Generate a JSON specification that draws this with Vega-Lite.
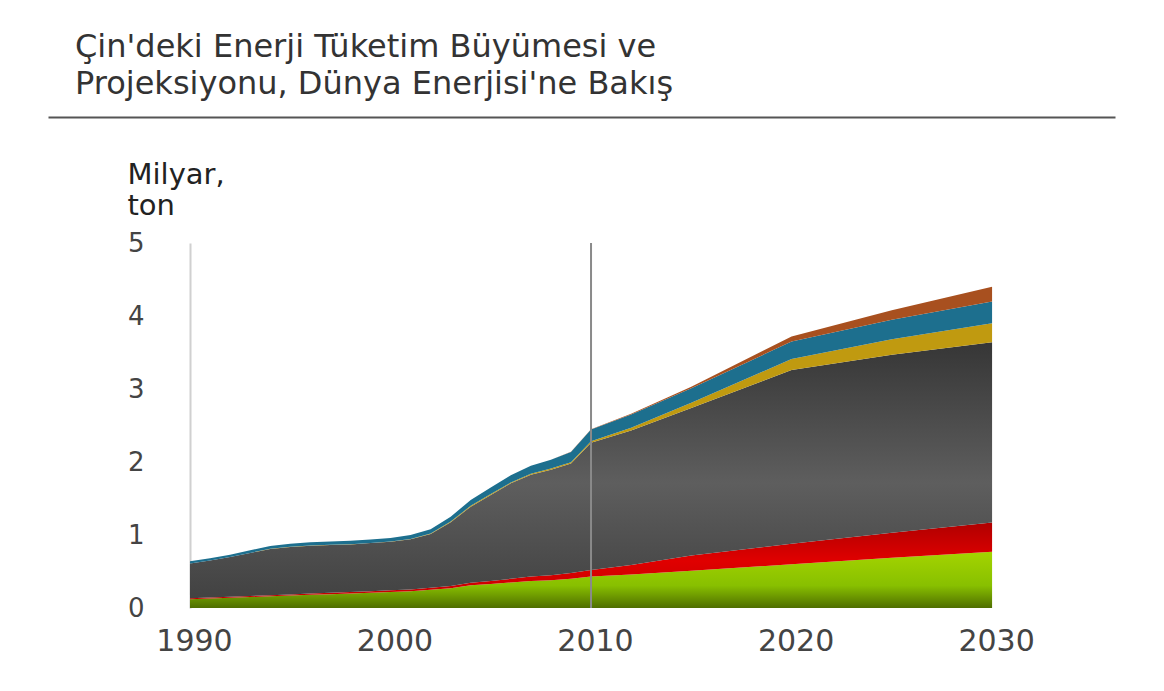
{
  "$schema": "https://vega.github.io/schema/vega-lite/v6.json",
  "autosize": "none",
  "width": 1067,
  "height": 365,
  "padding": {"left": 48, "top": 243, "right": 49, "bottom": 83},
  "background": "white",
  "config": {"view": {"stroke": null}},
  "title": {
    "text": ["Çin'deki Enerji Tüketim Büyümesi ve", "Projeksiyonu, Dünya Enerjisi'ne Bakış"],
    "anchor": "start",
    "frame": "group",
    "dx": 27,
    "offset": 16,
    "font": "DejaVu Sans",
    "fontSize": 32,
    "fontWeight": "normal",
    "color": "#333333",
    "lineHeight": 37
  },
  "datasets": {
    "energy": [
      {"year": 1990, "petrol": 0.12, "gaz": 0.013, "komur": 0.477, "nukleer": 0, "hidro": 0.03, "yenilenebilir": 0},
      {"year": 1991, "petrol": 0.13, "gaz": 0.013, "komur": 0.507, "nukleer": 0, "hidro": 0.03, "yenilenebilir": 0},
      {"year": 1992, "petrol": 0.14, "gaz": 0.013, "komur": 0.547, "nukleer": 0, "hidro": 0.03, "yenilenebilir": 0},
      {"year": 1993, "petrol": 0.15, "gaz": 0.014, "komur": 0.591, "nukleer": 0, "hidro": 0.035, "yenilenebilir": 0},
      {"year": 1994, "petrol": 0.16, "gaz": 0.015, "komur": 0.632, "nukleer": 0.003, "hidro": 0.04, "yenilenebilir": 0},
      {"year": 1995, "petrol": 0.17, "gaz": 0.016, "komur": 0.649, "nukleer": 0.003, "hidro": 0.042, "yenilenebilir": 0},
      {"year": 1996, "petrol": 0.18, "gaz": 0.017, "komur": 0.657, "nukleer": 0.003, "hidro": 0.043, "yenilenebilir": 0},
      {"year": 1997, "petrol": 0.19, "gaz": 0.018, "komur": 0.655, "nukleer": 0.003, "hidro": 0.044, "yenilenebilir": 0},
      {"year": 1998, "petrol": 0.2, "gaz": 0.018, "komur": 0.652, "nukleer": 0.003, "hidro": 0.047, "yenilenebilir": 0},
      {"year": 1999, "petrol": 0.21, "gaz": 0.019, "komur": 0.66, "nukleer": 0.003, "hidro": 0.048, "yenilenebilir": 0},
      {"year": 2000, "petrol": 0.22, "gaz": 0.022, "komur": 0.664, "nukleer": 0.004, "hidro": 0.05, "yenilenebilir": 0},
      {"year": 2001, "petrol": 0.23, "gaz": 0.024, "komur": 0.687, "nukleer": 0.004, "hidro": 0.055, "yenilenebilir": 0},
      {"year": 2002, "petrol": 0.25, "gaz": 0.026, "komur": 0.738, "nukleer": 0.006, "hidro": 0.06, "yenilenebilir": 0},
      {"year": 2003, "petrol": 0.27, "gaz": 0.03, "komur": 0.875, "nukleer": 0.01, "hidro": 0.065, "yenilenebilir": 0},
      {"year": 2004, "petrol": 0.31, "gaz": 0.035, "komur": 1.043, "nukleer": 0.012, "hidro": 0.08, "yenilenebilir": 0},
      {"year": 2005, "petrol": 0.33, "gaz": 0.04, "komur": 1.178, "nukleer": 0.012, "hidro": 0.09, "yenilenebilir": 0},
      {"year": 2006, "petrol": 0.35, "gaz": 0.05, "komur": 1.308, "nukleer": 0.012, "hidro": 0.1, "yenilenebilir": 0},
      {"year": 2007, "petrol": 0.37, "gaz": 0.06, "komur": 1.396, "nukleer": 0.014, "hidro": 0.11, "yenilenebilir": 0},
      {"year": 2008, "petrol": 0.38, "gaz": 0.07, "komur": 1.445, "nukleer": 0.015, "hidro": 0.12, "yenilenebilir": 0},
      {"year": 2009, "petrol": 0.4, "gaz": 0.08, "komur": 1.501, "nukleer": 0.016, "hidro": 0.14, "yenilenebilir": 0.003},
      {"year": 2010, "petrol": 0.43, "gaz": 0.09, "komur": 1.745, "nukleer": 0.02, "hidro": 0.16, "yenilenebilir": 0.005},
      {"year": 2012, "petrol": 0.46, "gaz": 0.13, "komur": 1.84, "nukleer": 0.04, "hidro": 0.18, "yenilenebilir": 0.01},
      {"year": 2015, "petrol": 0.51, "gaz": 0.21, "komur": 2.02, "nukleer": 0.07, "hidro": 0.2, "yenilenebilir": 0.02},
      {"year": 2020, "petrol": 0.6, "gaz": 0.28, "komur": 2.38, "nukleer": 0.15, "hidro": 0.24, "yenilenebilir": 0.07},
      {"year": 2025, "petrol": 0.69, "gaz": 0.34, "komur": 2.44, "nukleer": 0.21, "hidro": 0.27, "yenilenebilir": 0.13},
      {"year": 2030, "petrol": 0.77, "gaz": 0.4, "komur": 2.47, "nukleer": 0.26, "hidro": 0.3, "yenilenebilir": 0.2}
    ],
    "fuels": [
      {"fuel": "petrol", "order": 1},
      {"fuel": "gaz", "order": 2},
      {"fuel": "komur", "order": 3},
      {"fuel": "nukleer", "order": 4},
      {"fuel": "hidro", "order": 5},
      {"fuel": "yenilenebilir", "order": 6}
    ],
    "divider": [{"year": 2010}]
  },
  "resolve": {"axis": {"x": "independent"}},
  "layer": [
    {
      "data": {"name": "energy"},
      "transform": [
        {"fold": ["petrol", "gaz", "komur", "nukleer", "hidro", "yenilenebilir"], "as": ["fuel", "value"]},
        {"lookup": "fuel", "from": {"data": {"name": "fuels"}, "key": "fuel", "fields": ["order"]}},
        {"stack": "value", "groupby": ["year"], "sort": [{"field": "order", "order": "ascending"}], "as": ["y0", "y1"]}
      ],
      "encoding": {
        "x": {
          "field": "year", "type": "quantitative",
          "scale": {"domain": [1982.92, 2036.13], "nice": false, "zero": false},
          "axis": {
            "orient": "bottom",
            "values": [1990, 2000, 2010, 2020, 2030], "format": "d", "title": null,
            "domain": false, "ticks": false, "grid": false, "labelFlush": false,
            "labelFont": "DejaVu Sans", "labelFontSize": 30, "labelColor": "#444444",
            "labelPadding": 18, "labelOffset": 4
          }
        },
        "y": {
          "field": "y1", "type": "quantitative",
          "scale": {"domain": [0, 5], "nice": false},
          "axis": {
            "offset": -142,
            "values": [0, 1, 2, 3, 4, 5], "grid": false, "ticks": false,
            "domain": true, "domainColor": "#d0d0d0", "domainWidth": 2,
            "labelFont": "DejaVu Sans", "labelFontSize": 26, "labelColor": "#444444",
            "labelPadding": 46,
            "title": ["Milyar,", "ton"], "titleAngle": 0, "titleAlign": "left", "titleBaseline": "top",
            "titleX": -63, "titleY": -83, "titleFont": "DejaVu Sans", "titleFontSize": 29,
            "titleFontWeight": "normal", "titleColor": "#222222", "titleLineHeight": 31
          }
        },
        "y2": {"field": "y0"}
      },
      "layer": [
        {
          "transform": [{"filter": "datum.fuel === 'petrol'"}],
          "mark": {"type": "area", "fill": {"gradient": "linear", "x1": 0, "y1": 0, "x2": 0, "y2": 1, "stops": [{"offset": 0, "color": "#a4d400"}, {"offset": 0.6, "color": "#88c000"}, {"offset": 1, "color": "#4f6e00"}]}}
        },
        {
          "transform": [{"filter": "datum.fuel === 'gaz'"}],
          "mark": {"type": "area", "fill": {"gradient": "linear", "x1": 0, "y1": 0, "x2": 0, "y2": 1, "stops": [{"offset": 0, "color": "#b00000"}, {"offset": 0.5, "color": "#e00000"}, {"offset": 1, "color": "#c40000"}]}}
        },
        {
          "transform": [{"filter": "datum.fuel === 'komur'"}],
          "mark": {"type": "area", "fill": {"gradient": "linear", "x1": 0, "y1": 0, "x2": 0, "y2": 1, "stops": [{"offset": 0, "color": "#363636"}, {"offset": 0.55, "color": "#5e5e5e"}, {"offset": 1, "color": "#424242"}]}}
        },
        {
          "transform": [{"filter": "datum.fuel === 'nukleer'"}],
          "mark": {"type": "area", "fill": "#c09a10"}
        },
        {
          "transform": [{"filter": "datum.fuel === 'hidro'"}],
          "mark": {"type": "area", "fill": "#1d6f8e"}
        },
        {
          "transform": [{"filter": "datum.fuel === 'yenilenebilir'"}],
          "mark": {"type": "area", "fill": "#a8501f"}
        }
      ]
    },
    {
      "data": {"name": "divider"},
      "mark": {"type": "rule", "color": "#8a8a8a", "strokeWidth": 2},
      "encoding": {
        "x": {
          "field": "year", "type": "quantitative",
          "scale": {"domain": [1982.92, 2036.13], "nice": false, "zero": false},
          "axis": {
            "orient": "top", "offset": 126, "title": null,
            "labels": false, "ticks": false, "grid": false,
            "domain": true, "domainColor": "#555555", "domainWidth": 2
          }
        }
      }
    }
  ]
}
